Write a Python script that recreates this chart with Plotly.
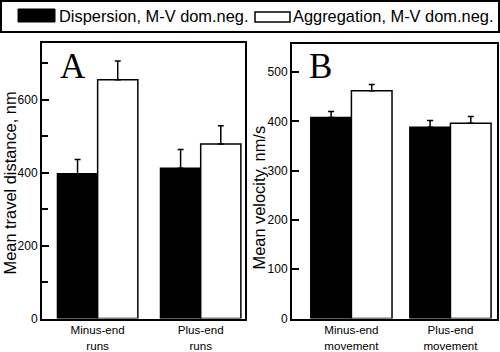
import plotly.graph_objects as go

# ---- data ----
categories_a = ["Minus-end<br>runs", "Plus-end<br>runs"]
categories_b = ["Minus-end<br>movement", "Plus-end<br>movement"]
series_names = ["Dispersion, M-V dom.neg.", "Aggregation, M-V dom.neg."]
dist_dispersion = [397, 412]
dist_dispersion_err = [39, 51]
dist_aggregation = [654, 478]
dist_aggregation_err = [52, 50]
vel_dispersion = [408, 388]
vel_dispersion_err = [12, 14]
vel_aggregation = [462, 396]
vel_aggregation_err = [13, 14]

W, H = 500, 352
FONT = "Liberation Sans, Arial, Helvetica, sans-serif"
SERIF = "Liberation Serif, Times New Roman, serif"


def px(x):
    return x / W


def py(y):
    return 1 - y / H


def bar(x, y, err, fill, width, offset, xa, ya):
    return go.Bar(
        x=x, y=y, width=width, offset=offset,
        marker=dict(color=fill, line=dict(color="black", width=1.5)),
        error_y=dict(type="data", symmetric=False, array=err,
                     arrayminus=[0] * len(err), color="black",
                     thickness=1.5, width=3),
        xaxis=xa, yaxis=ya, showlegend=False,
    )


fig = go.Figure()
wa, wb = 0.39, 0.41
fig.add_trace(bar(categories_a, dist_dispersion, dist_dispersion_err, "black", wa, -wa, "x", "y"))
fig.add_trace(bar(categories_a, dist_aggregation, dist_aggregation_err, "white", wa, 0, "x", "y"))
fig.add_trace(bar(categories_b, vel_dispersion, vel_dispersion_err, "black", wb, -wb, "x2", "y2"))
fig.add_trace(bar(categories_b, vel_aggregation, vel_aggregation_err, "white", wb, 0, "x2", "y2"))

xcommon = dict(showline=True, linewidth=2, linecolor="black", mirror=True,
               ticks="", showgrid=False, zeroline=False, automargin=False,
               tickfont=dict(family=FONT, size=11.6, color="black"))
ycommon = dict(showline=True, linewidth=2, linecolor="black", mirror=True,
               ticks="inside", ticklen=7, tickwidth=1.5, tickcolor="black",
               showgrid=False, zeroline=False, automargin=False,
               tickfont=dict(family=FONT, size=12, color="black"))

fig.update_layout(
    width=W, height=H, margin=dict(l=0, r=0, t=0, b=0, pad=0, autoexpand=False),
    paper_bgcolor="white", plot_bgcolor="white",
    showlegend=False,
    xaxis=dict(domain=[px(42), px(245)], anchor="y", range=[-0.54, 1.43], **xcommon),
    yaxis=dict(domain=[py(318.5), py(43)], anchor="x", range=[0, 755],
               tickmode="linear", tick0=0, dtick=200,
               minor=dict(dtick=100, ticks="inside", ticklen=6, tickwidth=1.5, tickcolor="black"),
               **ycommon),
    xaxis2=dict(domain=[px(292), px(497)], anchor="y2", range=[-0.6, 1.47], **xcommon),
    yaxis2=dict(domain=[py(318.5), py(44)], anchor="x2", range=[0, 557],
                tickmode="linear", tick0=0, dtick=100, **ycommon),
)

shapes = [
    dict(type="rect", xref="paper", yref="paper", x0=px(1), x1=px(499), y0=py(1), y1=py(32),
         line=dict(color="black", width=2), fillcolor="white"),
    dict(type="rect", xref="paper", yref="paper", x0=px(18), x1=px(55), y0=py(9), y1=py(22),
         line=dict(color="black", width=1), fillcolor="black"),
    dict(type="rect", xref="paper", yref="paper", x0=px(255), x1=px(290), y0=py(12), y1=py(22),
         line=dict(color="black", width=1.5), fillcolor="white"),
]
fig.update_layout(shapes=shapes)

ann = [
    dict(text=series_names[0], x=px(57), y=py(15.5), xanchor="left", yanchor="middle",
         font=dict(family=FONT, size=16.4, color="black")),
    dict(text=series_names[1], x=px(291), y=py(15.5), xanchor="left", yanchor="middle",
         font=dict(family=FONT, size=16.4, color="black")),
    dict(text="Mean travel distance, nm", x=px(9), y=py(183.5), textangle=-90,
         xanchor="center", yanchor="middle", font=dict(family=FONT, size=16.4, color="black")),
    dict(text="Mean velocity, nm/s", x=px(258), y=py(197.5), textangle=-90,
         xanchor="center", yanchor="middle", font=dict(family=FONT, size=16.4, color="black")),
    dict(text="A", x=px(58), y=py(67), xanchor="left", yanchor="middle",
         font=dict(family=SERIF, size=35, color="black")),
    dict(text="B", x=px(307), y=py(67), xanchor="left", yanchor="middle",
         font=dict(family=SERIF, size=35, color="black")),
]
for a in ann:
    a.update(xref="paper", yref="paper", showarrow=False)
fig.update_layout(annotations=ann)

fig.write_html("out.html")
